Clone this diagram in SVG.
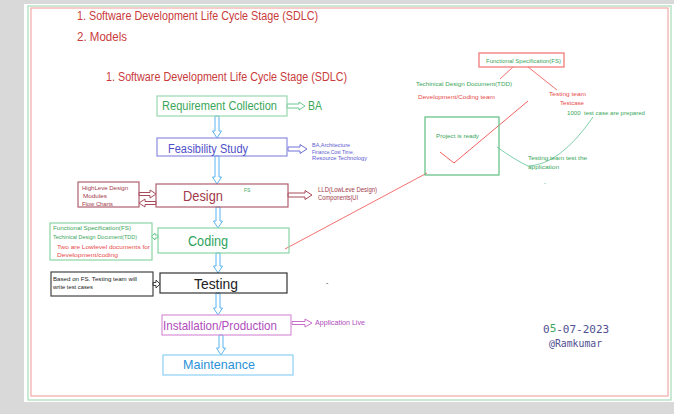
<svg xmlns="http://www.w3.org/2000/svg" width="674" height="414" viewBox="0 0 674 414">
<style>
text{font-family:"Liberation Sans","DejaVu Sans",sans-serif}
.t{font-size:12px;fill:#c93a3a}
.box{fill:none;stroke-width:1.2}
.arw{fill:#fff;stroke-width:1}
.v{fill:#fff;stroke:#5ab4f0;stroke-width:1}
.sm{font-size:5.5px}
.mono{font-family:"DejaVu Sans Mono","Liberation Mono",monospace}
</style>
<rect x="0" y="0" width="674" height="414" fill="#d9d9d9"/>
<rect x="24" y="4" width="650" height="398" fill="#fff"/>
<rect x="28" y="6" width="643" height="394" fill="none" stroke="#a8dcb8" stroke-width="1.2"/>
<rect x="31" y="8" width="637" height="388" fill="none" stroke="#f4a8a8" stroke-width="1.2"/>

<g id="titles">
<text class="t" x="77" y="20" textLength="241" lengthAdjust="spacingAndGlyphs">1. Software Development Life Cycle Stage (SDLC)</text>
<text class="t" x="77" y="41" textLength="50" lengthAdjust="spacingAndGlyphs">2. Models</text>
<text class="t" x="106" y="81" textLength="241" lengthAdjust="spacingAndGlyphs">1. Software Development Life Cycle Stage (SDLC)</text>
</g>

<g id="connectors">
<!-- vertical hollow arrows -->
<path class="v" d="M215,116 V131 H212.5 L217,138 L221.5,131 H219 V116 Z"/>
<path class="v" d="M215,156 V177 H212.5 L217,184 L221.5,177 H219 V156 Z"/>
<path class="v" d="M216,207 V221 H213.5 L218,228 L222.5,221 H220 V207 Z"/>
<path class="v" d="M216,253 V266 H213.5 L218,273 L222.5,266 H220 V253 Z"/>
<path class="v" d="M216,293 V308 H213.5 L218,315 L222.5,308 H220 V293 Z"/>
<path class="v" d="M219,335 V348 H216.5 L221,355 L225.5,348 H223 V335 Z"/>
<!-- horizontal arrows -->
<path class="arw" stroke="#6cc890" d="M287,104 H299 V102 L305,106 L299,110 V108 H287 Z"/>
<path class="arw" stroke="#7070d8" d="M288,147 H300 V144.5 L307,149 L300,153.5 V151 H288 Z"/>
<path class="arw" stroke="#a84a5a" d="M288,193 H305 V190.5 L312,195 L305,199.5 V197 H288 Z"/>
<path class="arw" stroke="#a84a5a" d="M139,192.5 H150 V190 L156,194 L150,198 V195.5 H139 Z"/>
<path class="arw" stroke="#a84a5a" d="M156,201.5 H145 V199 L139,203 L145,207 V204.5 H156 Z"/>
<path class="arw" stroke="#6cc890" d="M158,235 H155 V233 L151.5,236.5 L155,240 V238 H158 Z"/>
<path class="arw" stroke="#444" d="M153,282.5 H156 V280 L160,284 L156,288 V285.5 H153 Z"/>
<path class="arw" stroke="#c870c8" d="M292,321.5 H305 V319 L312,323 L305,327 V324.5 H292 Z"/>
<!-- freehand lines -->
<path d="M285,249 L427,173" fill="none" stroke="#f06060" stroke-width="0.9"/>
<path d="M513,67 L500,79" fill="none" stroke="#f06060" stroke-width="0.9"/>
<path d="M528,67 L557,90" fill="none" stroke="#f06060" stroke-width="0.9"/>
<path d="M440,152 L454,163 L528,101" fill="none" stroke="#f06060" stroke-width="1"/>
<path d="M497,147 Q515,160 528,166 Q560,165 593,117" fill="none" stroke="#70c8a0" stroke-width="0.9"/>
</g>

<g id="req">
<rect class="box" x="157" y="96" width="130" height="20" stroke="#9ad8b0"/>
<text x="162" y="110" font-size="12.5" fill="#3aa65a" textLength="115" lengthAdjust="spacingAndGlyphs">Requirement Collection</text>
<text x="308" y="110" font-size="12.5" fill="#3aa65a" textLength="14" lengthAdjust="spacingAndGlyphs">BA</text>
</g>

<g id="feasibility">
<rect class="box" x="157" y="138" width="130" height="18" stroke="#8c8ce0"/>
<text x="168" y="153" font-size="12.5" fill="#4f4fc8" textLength="80" lengthAdjust="spacingAndGlyphs">Feasibility Study</text>
<g font-size="5.5" fill="#5a5ad0">
<text x="312" y="147" textLength="38" lengthAdjust="spacingAndGlyphs">BA,Architecture</text>
<text x="312" y="154" textLength="42" lengthAdjust="spacingAndGlyphs">Finance,Cost Time,</text>
<text x="312" y="160" textLength="55" lengthAdjust="spacingAndGlyphs">Resource Technology</text>
</g>
</g>

<g id="design">
<rect class="box" x="156" y="184" width="132" height="23" stroke="#b06070"/>
<text x="183" y="201" font-size="15.5" fill="#a23a4a" textLength="40" lengthAdjust="spacingAndGlyphs">Design</text>
<text x="244" y="192" font-size="5" fill="#3aa65a">FS</text>
<rect class="box" x="78" y="182" width="61" height="25" stroke="#b06070"/>
<g font-size="6" fill="#a23a4a">
<text x="82" y="190" textLength="46" lengthAdjust="spacingAndGlyphs">HighLeve Design</text>
<text x="83" y="198" textLength="24" lengthAdjust="spacingAndGlyphs">Modules</text>
<text x="82" y="206" textLength="31" lengthAdjust="spacingAndGlyphs">Flow Charts</text>
</g>
<g font-size="6.5" fill="#a23a4a">
<text x="318" y="192" textLength="59" lengthAdjust="spacingAndGlyphs">LLD(LowLeve Design)</text>
<text x="318" y="200" textLength="40" lengthAdjust="spacingAndGlyphs">Components|UI</text>
</g>
</g>

<g id="coding">
<rect class="box" x="158" y="228" width="131" height="25" stroke="#8ad4a6"/>
<text x="188" y="246" font-size="15.5" fill="#2fa462" textLength="40" lengthAdjust="spacingAndGlyphs">Coding</text>
<rect class="box" x="50" y="223" width="102" height="37" stroke="#8ad4a6"/>
<g font-size="6">
<text x="53" y="230" fill="#3aa65a" textLength="78" lengthAdjust="spacingAndGlyphs">Functional Specification(FS)</text>
<text x="53" y="239" fill="#3aa65a" textLength="84" lengthAdjust="spacingAndGlyphs">Techinical Design Document(TDD)</text>
<text x="57" y="249" fill="#e84a4a" textLength="93" lengthAdjust="spacingAndGlyphs">Two are Lowlevel documents for</text>
<text x="57" y="257" fill="#e84a4a" textLength="61" lengthAdjust="spacingAndGlyphs">Development/coding</text>
</g>
</g>

<g id="testing">
<rect class="box" x="160" y="273" width="127" height="20" stroke="#333"/>
<text x="194" y="289" font-size="15.5" fill="#222" textLength="44" lengthAdjust="spacingAndGlyphs">Testing</text>
<rect class="box" x="51" y="272" width="102" height="24" stroke="#444"/>
<g font-size="5.5" fill="#222">
<text x="53" y="281" textLength="84" lengthAdjust="spacingAndGlyphs">Based on FS. Testing team will</text>
<text x="53" y="289" textLength="40" lengthAdjust="spacingAndGlyphs">write test cases</text>
</g>
</g>

<g id="installation">
<rect class="box" x="162" y="315" width="129" height="20" stroke="#d890d8"/>
<text x="163" y="329.5" font-size="13" fill="#b04cbc" textLength="114" lengthAdjust="spacingAndGlyphs">Installation/Production</text>
<text x="315" y="325" font-size="6.5" fill="#b04cbc" textLength="50" lengthAdjust="spacingAndGlyphs">Application Live</text>
</g>

<g id="maintenance">
<rect class="box" x="163" y="355" width="130" height="20" stroke="#8ccff4"/>
<text x="183" y="369" font-size="13" fill="#2a92d8" textLength="72" lengthAdjust="spacingAndGlyphs">Maintenance</text>
</g>

<g id="fs-note">
<rect class="box" x="479" y="53" width="85" height="14" stroke="#f07070"/>
<text x="486" y="63" font-size="5.5" fill="#3aa65a" textLength="75" lengthAdjust="spacingAndGlyphs">Functional Specification(FS)</text>
<text x="416" y="86" font-size="6" fill="#3aa65a" textLength="96" lengthAdjust="spacingAndGlyphs">Techinical Design Document(TDD)</text>
<text x="418" y="99" font-size="6" fill="#e84a4a" textLength="77" lengthAdjust="spacingAndGlyphs">Development/Coding team</text>
<text x="549" y="96" font-size="6" fill="#e84a4a" textLength="37" lengthAdjust="spacingAndGlyphs">Testing team</text>
<text x="560" y="105" font-size="6" fill="#e84a4a" textLength="24" lengthAdjust="spacingAndGlyphs">Testcase</text>
<text x="567" y="115" font-size="6" fill="#3aa65a" textLength="78" lengthAdjust="spacingAndGlyphs" xml:space="preserve">1000  test case are prepared</text>
</g>

<g id="project-ready">
<rect class="box" x="425" y="117" width="74" height="58" stroke="#5cbf80"/>
<text x="436" y="138" font-size="6" fill="#3aa65a" textLength="43" lengthAdjust="spacingAndGlyphs">Project is ready</text>
<text x="528" y="160" font-size="6" fill="#3aa65a" textLength="59" lengthAdjust="spacingAndGlyphs">Testing team test the</text>
<text x="528" y="169" font-size="6" fill="#3aa65a" textLength="31" lengthAdjust="spacingAndGlyphs">application</text>
<text x="544" y="185" font-size="6" fill="#3aa65a">-</text>
</g>

<g id="signature">
<text class="mono" x="543" y="333" font-size="11" fill="#505090"><tspan>0</tspan><tspan fill="#3aa65a" dy="-1.5">5</tspan><tspan dy="1.5">-07-2023</tspan></text>
<text class="mono" x="549" y="347" font-size="9.8" fill="#505090">@Ramkumar</text>
</g>

<text x="326" y="285" font-size="7" fill="#333">-</text>
</svg>
